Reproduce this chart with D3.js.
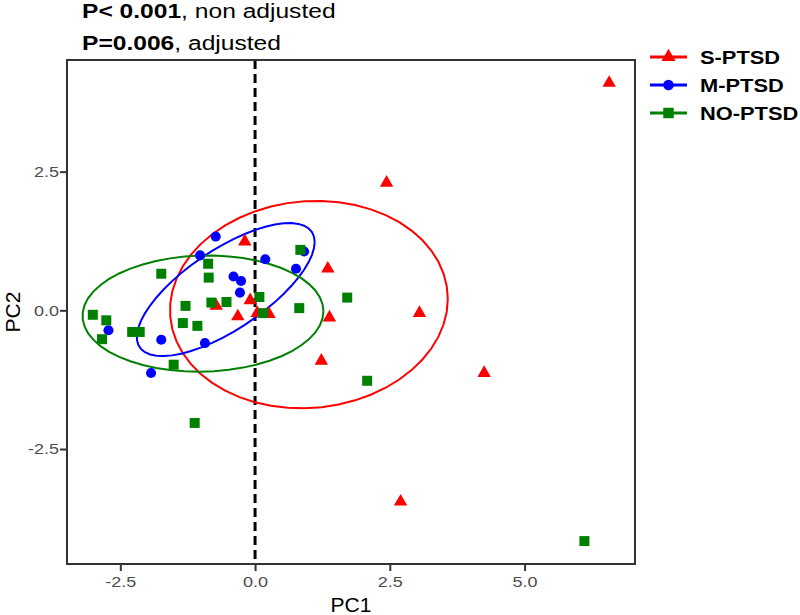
<!DOCTYPE html>
<html lang="en">
<head>
<meta charset="UTF-8">
<script src="https://d3js.org/d3.v7.min.js"></script>
<title>PCA</title>
<style>
  body { margin: 0; background: #fff; }
  text { font-family: "Liberation Sans", Arial, sans-serif; }
</style>
</head>
<body>
<svg width="800" height="615"></svg>
<script>
// values
var groups = ["S-PTSD", "M-PTSD", "NO-PTSD"];
var colors = ["#FF0000", "#0000FF", "#008000"];

var sPC1 = [6.57, 2.44, 1.35, 3.05, 1.38, 1.23, 4.25, 2.70, -0.19, -0.72, -0.09, -0.32, 0.04, 0.26];
var sPC2 = [4.10, 2.30, 0.75, -0.05, -0.13, -0.91, -1.13, -3.45, 1.24, 0.08, 0.18, -0.11, -0.05, -0.07];

var mPC1 = [-0.73, -1.02, 0.19, 0.91, 0.76, -0.40, -0.26, -0.28, -0.93, -1.74, -2.72, -1.93];
var mPC2 = [1.33, 0.99, 0.92, 1.06, 0.75, 0.61, 0.53, 0.32, -0.59, -0.53, -0.36, -1.13];

var nPC1 = [-3.01, -2.76, -2.84, -2.28, -2.14, -1.74, -0.87, -0.86, -1.29, -1.34, -1.07, -0.81, -0.53, -1.51, -1.12, 0.08, 0.15, 0.84, 1.71, 0.82, 2.08, 6.11];
var nPC2 = [-0.08, -0.18, -0.52, -0.39, -0.39, 0.66, 0.84, 0.59, 0.08, -0.23, -0.28, 0.14, 0.15, -0.98, -2.03, 0.24, -0.05, 1.09, 0.23, 0.04, -1.27, -4.16];

var xTicks = [-2.5, 0, 2.5, 5];
var yTicks = [-2.5, 0, 2.5];
var ellipseLevel = 0.74;

var series = [
  { name: groups[0], x: sPC1, y: sPC2, color: colors[0], shape: d3.symbolTriangle, size: 78 },
  { name: groups[1], x: mPC1, y: mPC2, color: colors[1], shape: d3.symbolCircle, size: 80 },
  { name: groups[2], x: nPC1, y: nPC2, color: colors[2], shape: d3.symbolSquare, size: 100 }
];

var svg = d3.select("svg");
var pLeft = 67, pRight = 635, pTop = 60, pBottom = 564;

var allX = sPC1.concat(mPC1, nPC1), allY = sPC2.concat(mPC2, nPC2);
var xr = d3.extent(allX), yr = d3.extent(allY);
var xPad = (xr[1] - xr[0]) * 0.05, yPad = (yr[1] - yr[0]) * 0.05;
var x = d3.scaleLinear().domain([xr[0] - xPad, xr[1] + xPad]).range([pLeft, pRight]);
var y = d3.scaleLinear().domain([yr[0] - yPad, yr[1] + yPad]).range([pBottom, pTop]);

// robust t covariance, like MASS::cov.trob
function covTrob(xs, ys) {
  var n = xs.length, nu = 5, p = 2;
  var w = xs.map(function() { return 1; });
  var loc = [d3.mean(xs), d3.mean(ys)];
  var X;
  for (var it = 0; it < 25; it++) {
    var w0 = w.slice();
    X = xs.map(function(v, i) { return [v - loc[0], ys[i] - loc[1]]; });
    var sw = d3.sum(w), a = 0, b = 0, d = 0;
    X.forEach(function(r, i) { a += w[i] / sw * r[0] * r[0]; b += w[i] / sw * r[0] * r[1]; d += w[i] / sw * r[1] * r[1]; });
    var det = a * d - b * b;
    w = X.map(function(r) {
      var q = (d * r[0] * r[0] - 2 * b * r[0] * r[1] + a * r[1] * r[1]) / det;
      return (nu + p) / (nu + q);
    });
    var ws = d3.sum(w);
    loc = [d3.sum(xs, function(v, i) { return w[i] * v; }) / ws, d3.sum(ys, function(v, i) { return w[i] * v; }) / ws];
    var done = w.every(function(v, i) { return Math.abs(v - w0[i]) < 0.01; });
    if (done) break;
  }
  var c = [0, 0, 0];
  X.forEach(function(r, i) { c[0] += w[i] * r[0] * r[0]; c[1] += w[i] * r[0] * r[1]; c[2] += w[i] * r[1] * r[1]; });
  return { center: loc, cov: c.map(function(v) { return v / n; }) };
}

function ellipse(xs, ys) {
  var t = covTrob(xs, ys), m = xs.length - 1;
  // F(2, m) quantile has a closed form
  var qf = (m / 2) * (Math.pow(1 - ellipseLevel, -2 / m) - 1);
  var radius = Math.sqrt(2 * qf);
  var r11 = Math.sqrt(t.cov[0]), r12 = t.cov[1] / r11, r22 = Math.sqrt(t.cov[2] - r12 * r12);
  return d3.range(0, 52).map(function(k) {
    var ang = k * 2 * Math.PI / 51;
    return [t.center[0] + radius * Math.cos(ang) * r11,
            t.center[1] + radius * (Math.cos(ang) * r12 + Math.sin(ang) * r22)];
  });
}

var plot = svg.append("g");

// dashed zero line
plot.append("line")
  .attr("x1", x(0)).attr("x2", x(0)).attr("y1", pTop).attr("y2", pBottom)
  .attr("stroke", "#000").attr("stroke-width", 3).attr("stroke-dasharray", "9,5");

var line = d3.line().x(function(d) { return x(d[0]); }).y(function(d) { return y(d[1]); }).curve(d3.curveLinear);

series.forEach(function(s) {
  plot.append("path")
    .attr("d", line(ellipse(s.x, s.y)))
    .attr("fill", "none").attr("stroke", s.color).attr("stroke-width", 2);
});

series.forEach(function(s) {
  plot.selectAll(null)
    .data(s.x)
    .enter()
    .append("path")
    .attr("d", d3.symbol().type(s.shape).size(s.size))
    .attr("transform", function(d, i) { return "translate(" + x(d) + "," + y(s.y[i]) + ")"; })
    .attr("fill", s.color);
});

// border
svg.append("rect")
  .attr("x", pLeft).attr("y", pTop).attr("width", pRight - pLeft).attr("height", pBottom - pTop)
  .attr("fill", "none").attr("stroke", "#333").attr("stroke-width", 2);

// axes
var fmt = function(d) { return d3.format(".1f")(d).replace("\u2212", "-"); };
var xAxis = svg.append("g").attr("transform", "translate(0," + pBottom + ")")
  .call(d3.axisBottom(x).tickValues(xTicks).tickFormat(fmt).tickSize(7).tickPadding(5));
var yAxis = svg.append("g").attr("transform", "translate(" + pLeft + ",0)")
  .call(d3.axisLeft(y).tickValues(yTicks).tickFormat(fmt).tickSize(7).tickPadding(5));
[xAxis, yAxis].forEach(function(a) {
  a.select(".domain").remove();
  a.selectAll(".tick line").attr("stroke", "#333").attr("stroke-width", 2);
  a.selectAll(".tick text").attr("fill", "#4D4D4D").attr("font-size", 15)
    .attr("font-family", "'Liberation Sans', Arial, sans-serif");
});
xAxis.selectAll(".tick text").attr("transform", "scale(1.2,1)").attr("x", 0);
yAxis.selectAll(".tick text").attr("transform", "translate(-8,0) scale(1.2,1)").attr("x", 0);

svg.append("text").attr("x", (pLeft + pRight) / 2).attr("y", 612)
  .attr("text-anchor", "middle").attr("font-size", 21).attr("fill", "#000").text("PC1");
svg.append("text").attr("transform", "translate(20," + (pTop + pBottom) / 2 + ") rotate(-90)")
  .attr("text-anchor", "middle").attr("font-size", 21).attr("fill", "#000").text("PC2");

// p-value title
var titleLines = [["P< 0.001", ", non adjusted"], ["P=0.006", ", adjusted"]];
titleLines.forEach(function(l, i) {
  var t = svg.append("text")
    .attr("transform", "translate(82," + (18 + i * 32) + ") scale(1.23,1)")
    .attr("font-size", 20).attr("fill", "#000");
  t.append("tspan").attr("font-weight", "bold").text(l[0]);
  t.append("tspan").text(l[1]);
});

// legend
var legend = svg.append("g").attr("transform", "translate(650,57)");
series.forEach(function(s, i) {
  var g = legend.append("g").attr("transform", "translate(0," + i * 28 + ")");
  g.append("line").attr("x1", 0).attr("x2", 37).attr("stroke", s.color).attr("stroke-width", 3);
  g.append("path").attr("d", d3.symbol().type(s.shape).size(s.size * 1.1))
    .attr("transform", "translate(18.5,0)").attr("fill", s.color);
  g.append("text").attr("transform", "translate(50,7) scale(1.15,1)")
    .attr("font-size", 19).attr("font-weight", "bold").attr("fill", "#000").text(s.name);
});
</script>
</body>
</html>
